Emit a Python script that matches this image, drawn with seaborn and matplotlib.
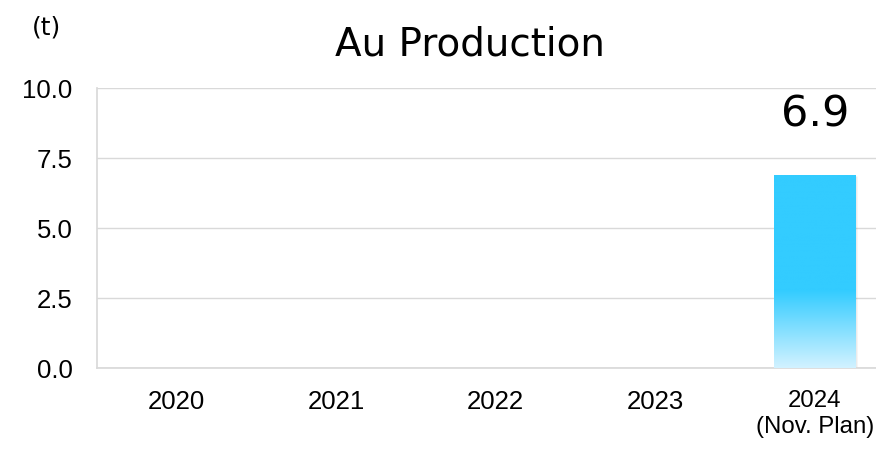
import numpy as np
import pandas as pd
import seaborn as sns
import matplotlib.pyplot as plt
from matplotlib.colors import LinearSegmentedColormap

# datos
years = ["2020", "2021", "2022", "2023", "2024"]
year_labels = ["2020", "2021", "2022", "2023", "2024\n(Nov. Plan)"]
production = [np.nan, np.nan, np.nan, np.nan, 6.9]
y_ticks = [0.0, 2.5, 5.0, 7.5, 10.0]

df = pd.DataFrame({"year": years, "production": production})

sns.set_theme(style="white")
plt.rcParams["font.family"] = ["Liberation Sans", "DejaVu Sans"]
plt.rcParams["text.color"] = "black"

fig = plt.figure(figsize=(8.76, 4.49), dpi=100)
ax = fig.add_axes([97 / 876, 81 / 449, 797.5 / 876, 280 / 449])

sns.barplot(x="year", y="production", data=df, color="#33CCFF", width=0.51, ax=ax, zorder=3)

# degradado de la barra
cmap = LinearSegmentedColormap.from_list("grad", [(0.0, "#D2F2FF"), (0.4, "#33CCFF"), (1.0, "#33CCFF")])
grad = np.linspace(0, 1, 256).reshape(-1, 1)
for p in ax.patches:
    h = p.get_height()
    if np.isnan(h) or h == 0:
        continue
    x0 = p.get_x()
    w = p.get_width()
    # sombra suave
    ax.bar(x0 + w / 2 + 0.012, h, width=w, bottom=-0.06, color="#000000", alpha=0.08, zorder=2)
    im = ax.imshow(grad, cmap=cmap, extent=[x0, x0 + w, 0, h], origin="lower",
                   aspect="auto", zorder=4)
    im.set_clip_path(p)
    p.set_alpha(0)
    ax.text(x0 + w / 2, 9.05, f"{h:.1f}", ha="center", va="center", fontsize=31,
            family="DejaVu Sans", color="black")

ax.set_xlim(-0.5, 4.5)
ax.set_ylim(0, 10)
ax.set_yticks(y_ticks)
ax.set_yticklabels([f"{v:.1f}" for v in y_ticks], fontsize=18.5, color="black")
ax.set_xticks(range(len(years)))
ax.set_xticklabels(year_labels, fontsize=18.5, linespacing=1.2, color="black")
ax.get_xticklabels()[-1].set_fontsize(17.3)
ax.set_xticks(np.arange(-0.5, 5, 1), minor=True)
ax.tick_params(axis="x", which="major", length=0, pad=16)
ax.tick_params(axis="x", which="minor", length=5, color="#D9D9D9", width=1)
ax.tick_params(axis="y", length=6.5, color="#D9D9D9", width=1, pad=11)

ax.yaxis.grid(True, color="#D9D9D9", linewidth=1, zorder=0)
ax.set_axisbelow(True)
for s in ["top", "right"]:
    ax.spines[s].set_visible(False)
ax.spines["left"].set_color("#D9D9D9")
ax.spines["bottom"].set_color("#D9D9D9")
ax.set_xlabel("")
ax.set_ylabel("")

fig.text(470 / 876, 1 - 45 / 449, "Au Production", ha="center", va="center", fontsize=28,
         family="DejaVu Sans", color="black")
fig.text(47 / 876, 1 - 27 / 449, "(t)", ha="center", va="center", fontsize=18,
         family="DejaVu Sans", color="black")

fig.savefig("out.png", dpi=100)
